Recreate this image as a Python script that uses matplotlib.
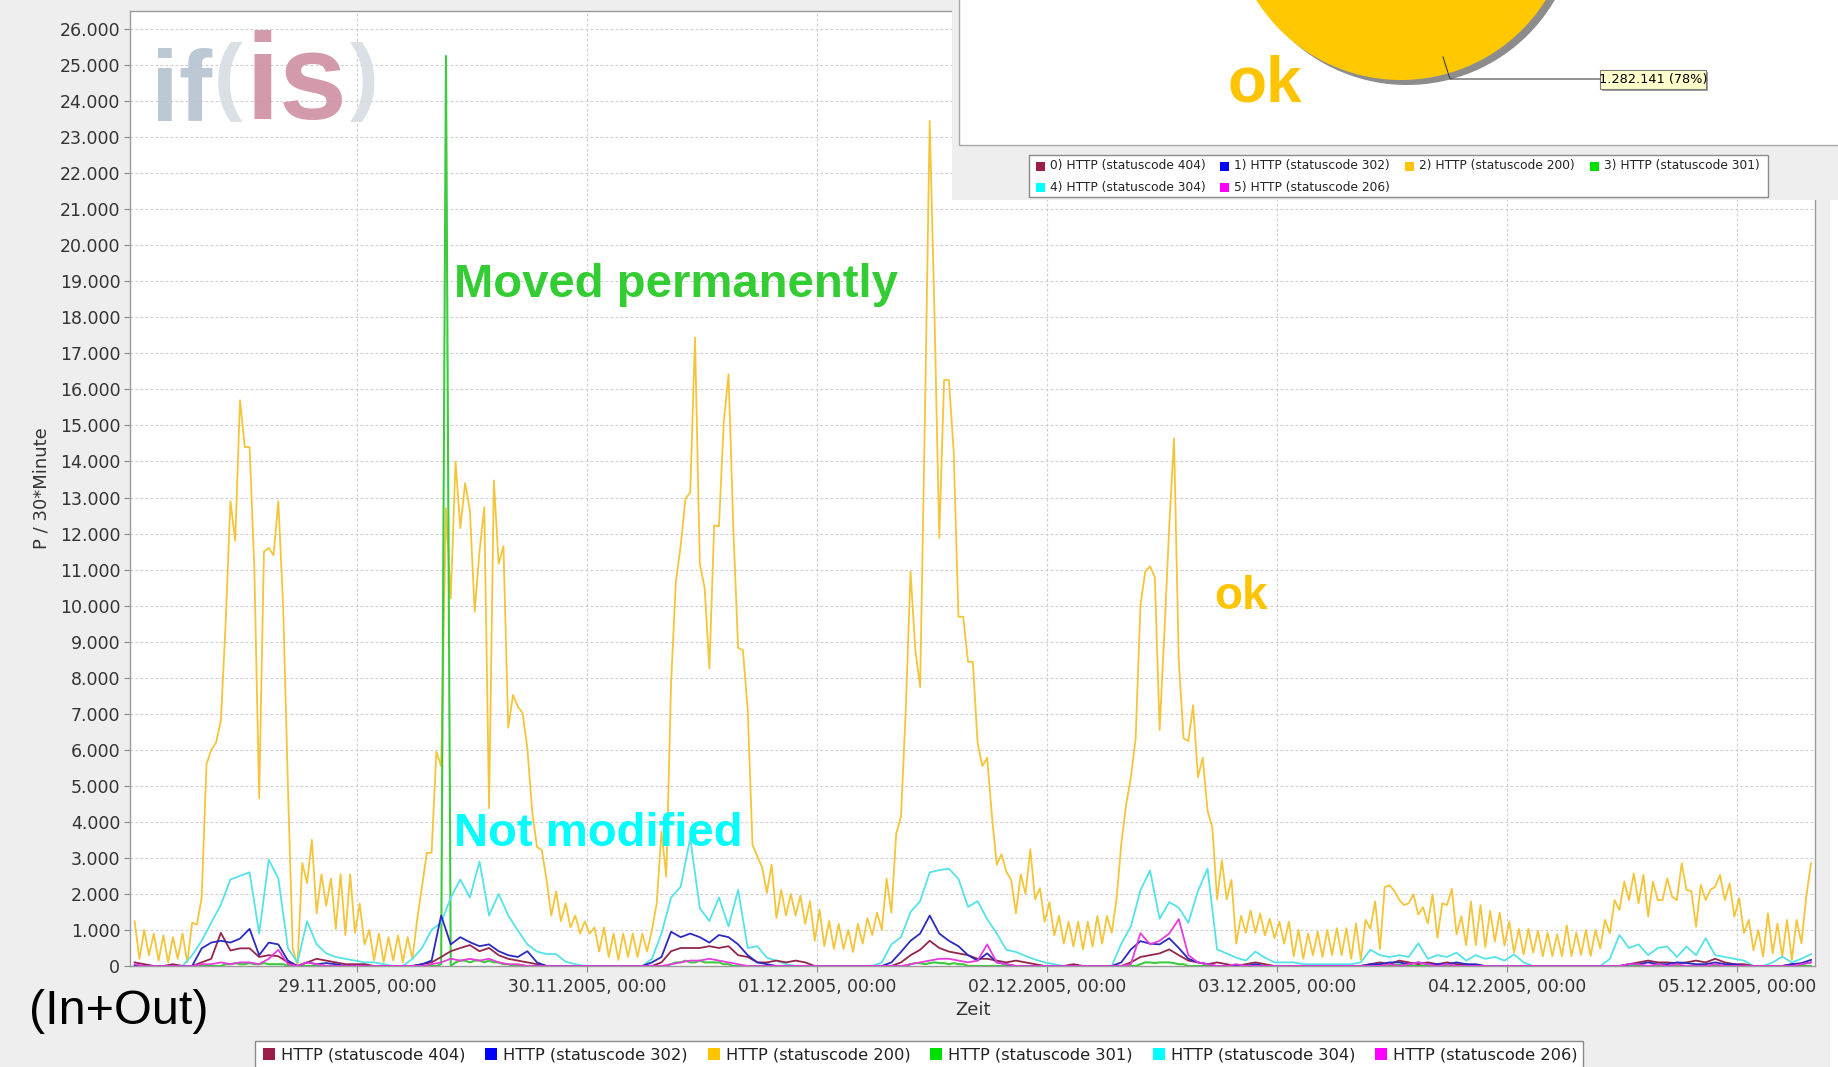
import matplotlib
matplotlib.use("Agg")
import matplotlib.pyplot as plt
import matplotlib.dates as mdates
from matplotlib.patches import Rectangle, Circle
from matplotlib.ticker import FuncFormatter, MultipleLocator
from datetime import datetime, timedelta

# ---------------------------------------------------------------- data
series_labels = ["HTTP (statuscode 404)", "HTTP (statuscode 302)", "HTTP (statuscode 200)",
                 "HTTP (statuscode 301)", "HTTP (statuscode 304)", "HTTP (statuscode 206)"]
legend_colors = ["#9B1E46", "#0000FF", "#FFC400", "#00E000", "#00FFFF", "#FF00FF"]
line_colors = ["#93264A", "#2B2BC0", "#F4C53A", "#3CCB3C", "#55E2E8", "#E63CDC"]

first_sample = datetime(2005, 11, 28, 0, 45)
x_start = datetime(2005, 11, 28, 0, 16)
x_end = datetime(2005, 12, 5, 8, 10)

# HTTP 200, one value per 30 minutes (28.11.2005 00:45 ...)
status_200 = [
    1240, 200, 1000, 300, 900, 150, 850, 100, 800, 200, 900, 100,
    1200, 1150, 1900, 5600, 6000, 6200, 6800, 9500, 12900, 11800, 15700, 14400,
    14400, 11000, 4650, 11500, 11600, 11400, 12900, 10000, 5000, 500, 0, 2860,
    2300, 3500, 1460, 2540, 1670, 2430, 1030, 2540, 860, 2540, 920, 1730,
    600, 1000, 160, 900, 100, 800, 150, 850, 100, 800, 200, 1300,
    2200, 3140, 3140, 5950, 5540, 12700, 10200, 14000, 12150, 13400, 12640, 9830,
    11490, 12730, 4380, 13470, 11160, 11650, 6610, 7520, 7200, 7020, 6030, 4300,
    3300, 3220, 2400, 1400, 2070, 1240, 1740, 1070, 1400, 900, 1240, 900,
    1070, 400, 1070, 250, 900, 170, 900, 250, 900, 250, 900, 400,
    1000, 1740, 3720, 2480, 7850, 10660, 11650, 12970, 13140, 17440, 11160, 10500,
    8260, 12230, 12200, 15090, 16420, 12120, 8830, 8760, 7110, 3360, 3050, 2740,
    2030, 2810, 1330, 2110, 1400, 2000, 1400, 1950, 1170, 1800, 700, 1560,
    550, 1250, 470, 1170, 470, 1000, 390, 1170, 620, 1330, 860, 1480,
    1010, 2420, 1480, 3670, 4140, 7110, 10940, 8760, 7740, 15240, 23450, 18060,
    11880, 16260, 16260, 14300, 9690, 9690, 8440, 8440, 6180, 5550, 5780, 4140,
    2810, 3100, 2620, 2390, 1460, 2540, 2000, 3240, 1850, 2160, 1230, 1770,
    850, 1390, 620, 1230, 540, 1230, 460, 1230, 540, 1390, 620, 1390,
    920, 1850, 3390, 4470, 5240, 6320, 10020, 10940, 11090, 10790, 6550, 9250,
    12170, 14640, 8470, 6320, 6240, 7240, 5240, 5780, 4310, 3850, 1850, 2930,
    1850, 2390, 620, 1390, 920, 1540, 920, 1460, 850, 1310, 770, 1230,
    620, 1230, 270, 1000, 200, 900, 300, 950, 250, 1000, 300, 1050,
    300, 1050, 200, 1180, 170, 1280, 1030, 1790, 470, 2190, 2240, 2090,
    1840, 1690, 1740, 1990, 1430, 1630, 1180, 1990, 780, 1740, 1690, 2140,
    880, 1380, 580, 1790, 580, 1690, 520, 1530, 680, 1480, 570, 1230,
    370, 1030, 320, 1030, 370, 980, 270, 930, 270, 880, 270, 1130,
    270, 930, 310, 1000, 280, 1000, 490, 1280, 910, 1830, 1550, 2340,
    1830, 2570, 1740, 2530, 1370, 2340, 1830, 1830, 2430, 1920, 1830, 2850,
    2110, 2080, 1090, 2250, 1830, 2110, 2200, 2530, 1830, 2290, 1370, 1880,
    910, 1280, 440, 1000, 260, 1460, 350, 1180, 260, 1280, 170, 1280, 630, 1920, 2850,
]

# HTTP 301, one value per 30 minutes
status_301 = [
    0, 0, 0, 0, 0, 0, 0, 0, 0, 0, 0, 0,
    0, 0, 0, 0, 0, 0, 0, 50, 50, 80, 50, 50,
    80, 50, 50, 80, 50, 50, 50, 50, 0, 0, 0, 0,
    0, 0, 0, 0, 0, 0, 0, 0, 0, 0, 0, 0,
    0, 0, 0, 0, 0, 0, 0, 0, 0, 0, 0, 0,
    0, 0, 0, 0, 50, 25250, 0, 100, 150, 150, 100, 150,
    150, 100, 150, 100, 100, 50, 50, 0, 0, 0, 0, 0,
    0, 0, 0, 0, 0, 0, 0, 0, 0, 0, 0, 0,
    0, 0, 0, 0, 0, 0, 0, 0, 0, 0, 0, 0,
    0, 0, 0, 0, 50, 100, 100, 150, 100, 100, 150, 100,
    100, 100, 100, 50, 50, 0, 0, 0, 0, 0, 0, 0,
    0, 0, 0, 0, 0, 0, 0, 0, 0, 0, 0, 0,
    0, 0, 0, 0, 0, 0, 0, 0, 0, 0, 0, 0,
    0, 0, 0, 0, 0, 0, 50, 80, 80, 50, 80, 100,
    80, 80, 50, 80, 50, 50, 0, 0, 0, 0, 0, 0,
    0, 0, 0, 0, 0, 0, 0, 0, 0, 0, 0, 0,
    0, 0, 0, 0, 0, 0, 0, 0, 0, 0, 0, 0,
    0, 0, 0, 0, 0, 0, 50, 100, 100, 80, 100, 100,
    100, 80, 50, 50, 0, 0, 0, 0, 0, 0, 0, 0,
    0, 0, 0, 0, 0, 0, 0, 0, 0, 0, 0, 0,
    0, 0, 0, 0, 0, 0, 0, 0, 0, 0, 0, 0,
    0, 0, 0, 0, 0, 0, 0, 30, 30, 30, 30, 30,
    30, 30, 0, 0, 0, 0, 0, 0, 0, 0, 0, 0,
    0, 0, 0, 0, 0, 0, 0, 0, 0, 0, 0, 0,
    0, 0, 0, 0, 0, 0, 0, 0, 0, 0, 0, 0,
    0, 0, 0, 0, 0, 0, 0, 0, 0, 0, 0, 0,
    0, 0, 0, 0, 0, 0, 0, 0, 0, 0, 0, 0,
    0, 0, 0, 0, 0, 0, 0, 0, 0, 0, 0, 0,
    0, 0, 0, 0, 0, 0, 0, 0, 0, 0, 0, 0, 0, 0, 0,
]

# the smaller series, one value per hour (28.11.2005 00:45 ...)
status_304 = [
    0, 0, 0, 0, 0, 0, 300, 700, 1200, 1700, 2400, 2500, 2600, 900, 2950, 2430, 500, 100, 1240, 600, 350, 250, 200, 150,
    100, 100, 50, 0, 0, 200, 500, 1000, 1200, 1900, 2400, 1900, 2900, 1400, 2000, 1400, 990, 600, 400, 330, 330, 120, 50, 0,
    0, 0, 0, 0, 0, 0, 200, 900, 1900, 2200, 3550, 1600, 1250, 1900, 1100, 2110, 500, 550, 230, 150, 50, 0, 0, 0,
    0, 0, 0, 0, 0, 0, 100, 600, 800, 1500, 1800, 2600, 2660, 2700, 2420, 1640, 1800, 1300, 900, 450, 390, 280, 180, 100,
    50, 0, 0, 0, 0, 0, 0, 620, 1100, 2100, 2650, 1310, 1770, 1620, 1200, 2080, 2700, 460, 350, 230, 150, 400, 230, 100,
    100, 100, 50, 50, 50, 50, 50, 50, 100, 450, 300, 250, 300, 250, 630, 200, 300, 250, 370, 150, 300, 200, 250, 150,
    320, 100, 0, 0, 0, 0, 0, 0, 0, 0, 200, 860, 500, 600, 300, 500, 540, 250, 540, 300, 770, 300, 250, 200,
    150, 0, 0, 100, 260, 100, 200, 330,
]
status_302 = [
    0, 0, 0, 0, 0, 0, 0, 490, 650, 700, 650, 760, 1030, 300, 650, 600, 150, 0, 100, 50, 80, 50, 0, 0,
    0, 0, 0, 0, 0, 0, 50, 150, 1400, 600, 800, 660, 550, 600, 410, 300, 250, 410, 100, 0, 0, 0, 0, 0,
    0, 0, 0, 0, 0, 0, 100, 250, 950, 800, 900, 800, 650, 860, 800, 600, 300, 100, 50, 0, 0, 0, 0, 0,
    0, 0, 0, 0, 0, 0, 0, 100, 390, 700, 900, 1400, 900, 700, 550, 300, 150, 350, 100, 50, 0, 0, 0, 0,
    0, 0, 0, 0, 0, 0, 0, 100, 460, 690, 620, 600, 770, 500, 200, 100, 50, 0, 0, 0, 0, 50, 0, 0,
    0, 0, 0, 0, 0, 0, 0, 0, 0, 50, 50, 100, 100, 50, 100, 50, 50, 50, 100, 50, 50, 0, 0, 0,
    0, 0, 0, 0, 0, 0, 0, 0, 0, 0, 0, 0, 50, 50, 100, 50, 50, 100, 80, 50, 50, 100, 50, 50,
    0, 0, 0, 0, 0, 50, 80, 170,
]
status_404 = [
    100, 50, 0, 0, 50, 0, 0, 100, 200, 920, 430, 490, 490, 250, 300, 270, 100, 0, 100, 200, 150, 100, 50, 50,
    50, 0, 0, 0, 0, 0, 50, 100, 250, 410, 500, 580, 410, 500, 300, 200, 150, 100, 50, 0, 0, 0, 0, 0,
    0, 0, 0, 0, 0, 0, 0, 100, 410, 500, 500, 500, 550, 500, 550, 300, 250, 100, 100, 150, 100, 150, 100, 0,
    0, 0, 0, 0, 0, 0, 0, 0, 100, 300, 450, 700, 500, 400, 350, 300, 200, 200, 150, 100, 150, 100, 50, 0,
    0, 0, 50, 0, 0, 0, 0, 0, 100, 250, 300, 350, 460, 300, 150, 100, 50, 100, 50, 0, 50, 100, 50, 0,
    0, 0, 0, 0, 0, 0, 0, 0, 0, 50, 100, 50, 150, 100, 50, 100, 50, 100, 50, 50, 0, 0, 0, 0,
    0, 0, 0, 0, 0, 0, 0, 0, 0, 0, 0, 0, 50, 100, 150, 100, 100, 80, 100, 150, 100, 200, 100, 50,
    50, 0, 0, 0, 0, 50, 50, 100,
]
status_206 = [
    50, 0, 0, 0, 0, 0, 0, 50, 50, 100, 50, 100, 100, 50, 200, 450, 50, 0, 100, 50, 0, 0, 0, 0,
    0, 0, 0, 0, 0, 0, 0, 50, 100, 200, 150, 200, 150, 200, 100, 50, 50, 0, 0, 0, 0, 0, 0, 0,
    0, 0, 0, 0, 0, 0, 0, 0, 50, 100, 150, 150, 200, 150, 100, 50, 0, 0, 0, 0, 0, 0, 0, 0,
    0, 0, 0, 0, 0, 0, 0, 0, 0, 50, 100, 150, 200, 200, 150, 100, 150, 600, 100, 50, 0, 0, 0, 0,
    0, 0, 0, 0, 0, 0, 0, 0, 50, 910, 600, 700, 900, 1300, 300, 100, 50, 0, 0, 50, 0, 0, 0, 0,
    0, 0, 0, 0, 0, 0, 0, 0, 0, 0, 0, 50, 0, 50, 100, 50, 0, 50, 0, 0, 0, 0, 0, 0,
    0, 0, 0, 0, 0, 0, 0, 0, 0, 0, 0, 0, 50, 50, 0, 50, 0, 50, 0, 0, 0, 50, 0, 0,
    0, 0, 0, 0, 0, 0, 50, 100,
]

pie_ok_count = 1282141
pie_ok_share = 78
y_max = 26500

# ---------------------------------------------------------------- figure
W, H = 1838, 1067
fig = plt.figure(figsize=(W / 100, H / 100), dpi=100)
fig.patch.set_facecolor("#EEEEEE")

L, R, T, B = 130, 1815, 11, 966
ax = fig.add_axes([L / W, 1 - B / H, (R - L) / W, (B - T) / H])
ax.set_facecolor("white")

t30 = [first_sample + timedelta(minutes=30 * i) for i in range(len(status_200))]
t60 = [first_sample + timedelta(hours=i) for i in range(len(status_304))]

lw = 1.3
ax.plot(t30, status_200, color=line_colors[2], lw=lw, zorder=3)
ax.plot(t30, status_301, color=line_colors[3], lw=1.5, zorder=4)
ax.plot(t60, status_304, color=line_colors[4], lw=lw, zorder=5)
ax.plot(t60, status_404, color=line_colors[0], lw=lw, zorder=6)
ax.plot(t60, status_302, color=line_colors[1], lw=lw, zorder=7)
ax.plot(t60, status_206, color=line_colors[5], lw=lw, zorder=8)

ax.set_xlim(x_start, x_end)
ax.set_ylim(0, y_max)
ax.yaxis.set_major_locator(MultipleLocator(1000))
ax.yaxis.set_major_formatter(FuncFormatter(lambda v, p: f"{int(round(v)):,}".replace(",", ".")))
ax.xaxis.set_major_locator(mdates.DayLocator())
ax.xaxis.set_major_formatter(mdates.DateFormatter("%d.%m.%Y, %H:%M"))
ax.grid(True, color="#CFCFCF", linestyle=(0, (2.5, 2)), lw=0.8, zorder=0)
ax.tick_params(axis="both", colors="#8A8A8A", labelcolor="#333333", length=4, width=0.8)
ax.tick_params(axis="y", labelsize=12.5, pad=3)
ax.tick_params(axis="x", labelsize=12.3, pad=5)
for s in ax.spines.values():
    s.set_color("#9A9A9A")
    s.set_linewidth(1.0)

# ---------------------------------------------------------------- overlay (pixel coordinates)
ov = fig.add_axes([0, 0, 1, 1], zorder=10)
ov.set_xlim(0, W)
ov.set_ylim(H, 0)
ov.axis("off")
ov.patch.set_alpha(0)

# axis titles
ov.text(41, 488, "P / 30*Minute", rotation=90, ha="center", va="center", fontsize=13, color="#333333")
ov.text(973, 1010, "Zeit", ha="center", va="center", fontsize=13, color="#333333")

# watermark logo  if(is)
logo = [("if", 151, 121, "#B5C2CF", 72), ("(", 214, 104, "#D6DDE4", 62),
        ("is", 246, 119, "#CF8FA3", 88), (")", 350, 104, "#D6DDE4", 62)]
for txt, x, yb, c, fs in logo:
    ov.text(x, yb, txt, ha="left", va="baseline", fontsize=fs, color=c,
            fontweight="bold", family="Liberation Sans", alpha=0.9)

# annotations
ov.text(454, 297, "Moved permanently", ha="left", va="baseline", fontsize=34, fontweight="bold",
        color="#33CC33", family="Liberation Sans")
ov.text(454, 846, "Not modified", ha="left", va="baseline", fontsize=34, fontweight="bold",
        color="#00FFFF", family="Liberation Sans")
ov.text(1214, 609, "ok", ha="left", va="baseline", fontsize=33, fontweight="bold",
        color="#FFC400", family="Liberation Sans")
ov.text(29, 1024, "(In+Out)", ha="left", va="baseline", fontsize=35, color="black",
        family="Liberation Sans")

# main legend
ov.add_patch(Rectangle((255, 1041), 1328, 40, facecolor="white", edgecolor="#8A8A8A", lw=1.0))
for k, (lab, col) in enumerate(zip(series_labels, legend_colors)):
    x0 = 263 + k * 222.4
    ov.add_patch(Rectangle((x0, 1048), 12, 12, facecolor=col, edgecolor="none"))
    ov.text(x0 + 18, 1054.5, lab, ha="left", va="center", fontsize=11.7, color="#222222")

# pie chart panel (inset at top right)
ov.add_patch(Rectangle((952, -5), 900, 205, facecolor="#EEEEEE", edgecolor="none"))
ov.add_patch(Rectangle((959, -10), 900, 155, facecolor="white", edgecolor="#A8A8A8", lw=1.0))
ov.add_patch(Circle((1407, -86), 171, facecolor="#8C8C8C", edgecolor="none"))
ov.add_patch(Circle((1401, -91), 171, facecolor="#FFC800", edgecolor="none"))
ov.plot([1443, 1450, 1600], [57, 79, 79], color="#404040", lw=0.8)
ov.add_patch(Rectangle((1602, 72), 106, 19, facecolor="#A0A0A0", edgecolor="none"))
ov.add_patch(Rectangle((1600, 70), 106, 19, facecolor="#FFFFCC", edgecolor="#7A7A7A", lw=0.8))
pct_text = f"{pie_ok_count:,}".replace(",", ".") + f" ({pie_ok_share}%)"
ov.text(1653, 80, pct_text, ha="center", va="center", fontsize=9.3, color="black")
ov.text(1228, 102, "ok", ha="left", va="baseline", fontsize=46, fontweight="bold",
        color="#FFC400", family="Liberation Sans")

ov.add_patch(Rectangle((1029, 155), 739, 42, facecolor="white", edgecolor="#8A8A8A", lw=1.0))
pie_pos = [(1036, 166), (1220, 166), (1405, 166), (1590, 166), (1036, 187.5), (1220, 187.5)]
for k, ((px, py), lab, col) in enumerate(zip(pie_pos, series_labels, legend_colors)):
    ov.add_patch(Rectangle((px, py - 4.5), 9, 9, facecolor=col, edgecolor="none"))
    ov.text(px + 14, py, f"{k}) {lab}", ha="left", va="center", fontsize=8.8, color="#222222")

# right-hand white border strip
ov.add_patch(Rectangle((1830, 200), 20, 900, facecolor="white", edgecolor="none"))

fig.savefig("out.png", dpi=100, facecolor=fig.get_facecolor())
